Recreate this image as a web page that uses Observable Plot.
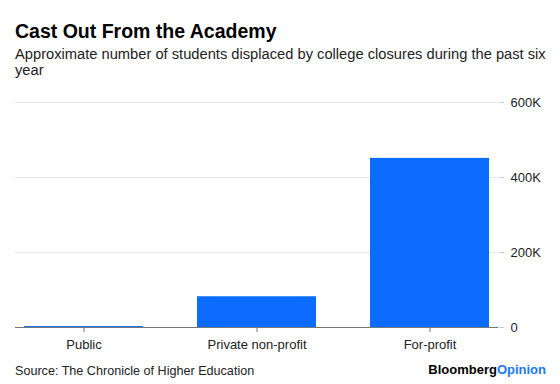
<!DOCTYPE html>
<html>
<head>
<meta charset="utf-8">
<script src="https://cdn.jsdelivr.net/npm/d3@7"></script>
<script src="https://cdn.jsdelivr.net/npm/@observablehq/plot@0.6"></script>
<style>
  html, body { margin: 0; padding: 0; background: #fff; }
  body { width: 560px; height: 384px; position: relative; overflow: hidden;
         font-family: "Liberation Sans", Arial, Helvetica, sans-serif; }
  #title { position: absolute; left: 15px; top: 19px; font-size: 19.5px; line-height: 24px;
           font-weight: bold; color: #000; white-space: nowrap; }
  #subtitle { position: absolute; left: 15px; top: 46px; font-size: 14.7px; line-height: 16px;
              color: #222; white-space: nowrap; }
  #chart { position: absolute; left: 0; top: 80px; }
  #source { position: absolute; left: 15px; top: 363px; font-size: 12.6px; line-height: 16px; color: #222; }
  #logo { position: absolute; right: 14px; top: 362px; font-size: 13px; line-height: 16px;
          font-weight: bold; color: #000; }
  #logo span { color: #1a78ff; }
</style>
</head>
<body>
<div id="title">Cast Out From the Academy</div>
<div id="subtitle">Approximate number of students displaced by college closures during the past six<br>year</div>
<div id="chart"></div>
<div id="source">Source: The Chronicle of Higher Education</div>
<div id="logo">Bloomberg<span>Opinion</span></div>
<script>
const categories = ["Public", "Private non-profit", "For-profit"];
const students = [2500, 82000, 451000];
const yTicks = [0, 200000, 400000, 600000];
const yTickLabels = ["0", "200K", "400K", "600K"];

const data = categories.map((c, i) => ({category: c, students: students[i]}));

const chart = Plot.plot({
  width: 560,
  height: 280,
  marginTop: 22,
  marginBottom: 33,
  marginLeft: 15,
  marginRight: 62,
  style: {fontFamily: "'Liberation Sans', Arial, sans-serif", fontSize: "13px", color: "#222", background: "#fff"},
  x: {domain: categories, paddingInner: 0.31, paddingOuter: 0.045, label: null},
  y: {domain: [0, 600000], label: null},
  marks: [
    Plot.ruleY(yTicks.filter(d => d > 0), {stroke: "#e8e8e8", strokeWidth: 1}),
    Plot.barY(data, {x: "category", y: "students", fill: "#0b6cff"}),
    Plot.ruleY([0], {stroke: "#777", strokeWidth: 1.2}),
    Plot.axisY({anchor: "right", ticks: yTicks, tickFormat: (d) => yTickLabels[yTicks.indexOf(d)],
                tickSize: 5, tickPadding: 7, stroke: "#ccc", color: "#222", label: null, fontSize: 13}),
    Plot.axisX({anchor: "bottom", tickSize: 5, tickPadding: 7, stroke: "#777", color: "#222", label: null, fontSize: 13})
  ]
});
document.getElementById("chart").appendChild(chart);
</script>
</body>
</html>
